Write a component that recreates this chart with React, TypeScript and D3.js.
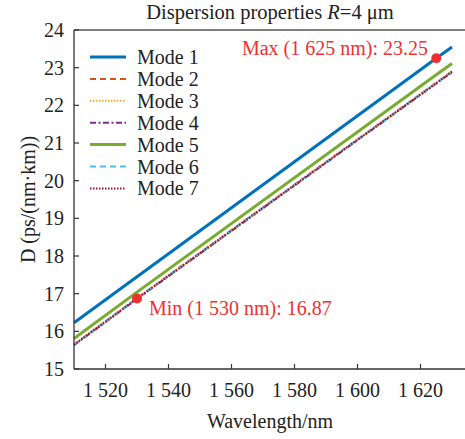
import React from "react";
import * as d3 from "d3";

const W = 465;
const H = 439;

const modes = ["Mode 1", "Mode 2", "Mode 3", "Mode 4", "Mode 5", "Mode 6", "Mode 7"];
const colors = ["#0072BD", "#D95319", "#EDB120", "#7E2F8E", "#77AC30", "#4DBEEE", "#A2142F"];
const dashes = ["", "6,4", "1.5,1.5", "6,2.5,2,2.5", "", "6,4", "1.5,1.5"];
const widths = [3, 2, 2, 2, 3, 2, 2];

const wavelengths = [1510, 1530, 1625, 1630];
const mode1 = [16.23, 17.45, 23.25, 23.55];
const mode2 = [15.65, 16.88, 22.6, 22.9];
const mode3 = [15.66, 16.88, 22.6, 22.91];
const mode4 = [15.63, 16.86, 22.58, 22.88];
const mode5 = [15.81, 17.04, 22.81, 23.11];
const mode6 = [15.64, 16.87, 22.59, 22.89];
const mode7 = [15.64, 16.87, 22.59, 22.89];
const series = [mode1, mode2, mode3, mode4, mode5, mode6, mode7];

const xTicks = [1520, 1540, 1560, 1580, 1600, 1620];
const yTicks = [15, 16, 17, 18, 19, 20, 21, 22, 23, 24];

const maxPoint = { x: 1625, y: 23.25, label: "Max (1 625 nm): 23.25" };
const minPoint = { x: 1530, y: 16.87, label: "Min (1 530 nm): 16.87" };

const fmtX = (v: number) => `${Math.floor(v / 1000)} ${String(v % 1000).padStart(3, "0")}`;

export default function App() {
  const left = 74, top = 30, bottom = 369;
  const x = d3.scaleLinear().domain([1510, 1640]).range([left, left + 130 * 3.15]);
  const y = d3.scaleLinear().domain([15, 24]).range([bottom, top]);
  const line = d3.line<[number, number]>().x(d => x(d[0])).y(d => y(d[1]));
  const font = "'Liberation Serif', 'Times New Roman', serif";
  const axisColor = "#333";
  const red = "#ee3030";

  return (
    <svg width={W} height={H} style={{ position: "absolute", left: 0, top: 0, background: "#fff" }} fontFamily={font}>
      <rect width={W} height={H} fill="#fff" />
      {/* title */}
      <text x={270} y={19} fontSize={20.5} textAnchor="middle" fill="#222">
        Dispersion properties <tspan fontStyle="italic">R</tspan>=4 μm
      </text>
      {/* lines */}
      {series.map((s, i) => (
        <path
          key={i}
          d={line(wavelengths.map((w, j) => [w, s[j]]) as [number, number][]) || ""}
          fill="none"
          stroke={colors[i]}
          strokeWidth={widths[i]}
          strokeDasharray={dashes[i] || undefined}
        />
      ))}
      {/* frame */}
      <line x1={left} x2={W} y1={top} y2={top} stroke="#555" strokeWidth={1.3} />
      <line x1={left} x2={W} y1={bottom} y2={bottom} stroke={axisColor} strokeWidth={1.3} />
      <line x1={left} x2={left} y1={top} y2={bottom} stroke={axisColor} strokeWidth={1.3} />
      {/* x ticks */}
      {xTicks.map(t => (
        <g key={t}>
          <line x1={x(t)} x2={x(t)} y1={bottom} y2={bottom - 5} stroke={axisColor} strokeWidth={1.2} />
          <text x={x(t)} y={397} fontSize={20} textAnchor="middle" fill="#222">{fmtX(t)}</text>
        </g>
      ))}
      {/* y ticks */}
      {yTicks.map(t => (
        <g key={t}>
          <line x1={left} x2={left + 5} y1={y(t)} y2={y(t)} stroke={axisColor} strokeWidth={1.2} />
          <text x={64} y={y(t)} dy="0.35em" fontSize={20} textAnchor="end" fill="#222">{t}</text>
        </g>
      ))}
      {/* axis titles */}
      <text x={270} y={428} fontSize={20} textAnchor="middle" fill="#222">Wavelength/nm</text>
      <text transform={`translate(35,${(top + bottom) / 2}) rotate(-90)`} fontSize={20} textAnchor="middle" fill="#222">
        D (ps/(nm·km))
      </text>
      {/* legend */}
      {modes.map((m, i) => {
        const ly = 57 + i * 21.9;
        return (
          <g key={m}>
            <line x1={90} x2={126} y1={ly} y2={ly} stroke={colors[i]} strokeWidth={widths[i]} strokeDasharray={dashes[i] || undefined} />
            <text x={137} y={ly} dy="0.35em" fontSize={20} fill="#222">{m}</text>
          </g>
        );
      })}
      {/* annotations */}
      <circle cx={x(maxPoint.x)} cy={y(maxPoint.y)} r={5} fill={red} />
      <text x={428} y={55} fontSize={20} textAnchor="end" fill={red}>{maxPoint.label}</text>
      <circle cx={x(minPoint.x)} cy={y(minPoint.y)} r={5} fill={red} />
      <text x={149} y={315} fontSize={20} fill={red}>{minPoint.label}</text>
    </svg>
  );
}
